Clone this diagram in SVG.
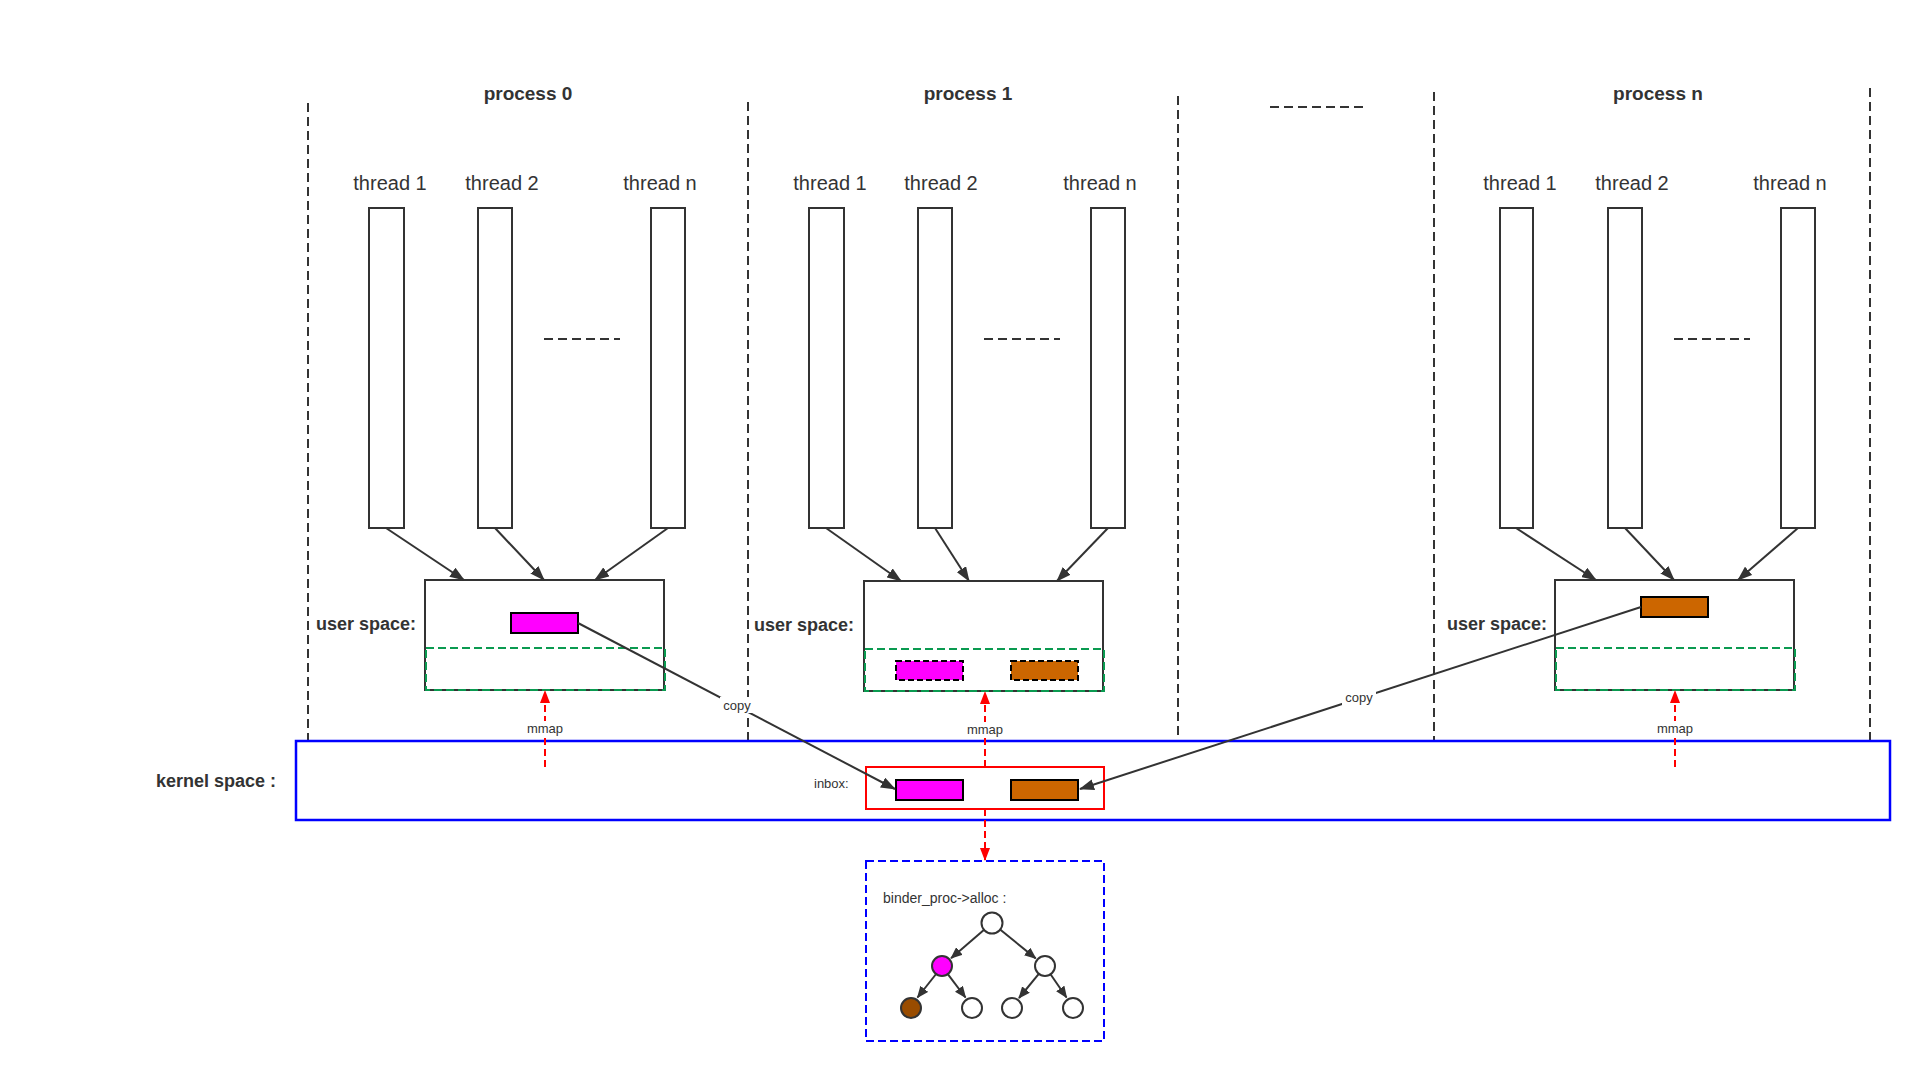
<svg xmlns="http://www.w3.org/2000/svg" width="1920" height="1072" viewBox="0 0 1920 1072">
<style>
text{font-family:"Liberation Sans",Arial,sans-serif;fill:#333}
.ptitle{font-size:19px;font-weight:bold;text-anchor:middle}
.tl{font-size:20px;text-anchor:middle}
.us{font-size:18px;font-weight:bold}
.sm{font-size:13px}
.smc{font-size:13px;text-anchor:middle}
.div{stroke:#333;stroke-width:2;stroke-dasharray:9 5;fill:none}
.dots{stroke:#333;stroke-width:2;stroke-dasharray:9 5;fill:none}
.thr{fill:#fff;stroke:#333;stroke-width:2}
.ubox{fill:#fff;stroke:#333;stroke-width:2}
.green{fill:none;stroke:#0a9a50;stroke-width:2;stroke-dasharray:8 4}
.mag{fill:#ff00ff;stroke:#000;stroke-width:2}
.org{fill:#cc6600;stroke:#000;stroke-width:2}
.dsh{stroke-dasharray:6 3}
.conn{stroke:#333;stroke-width:2;fill:none}
.red{stroke:#ff0000;stroke-width:2;stroke-dasharray:7 4;fill:none}
.node{fill:#fff;stroke:#333;stroke-width:2}
</style>
<defs>
<marker id="ah" viewBox="0 0 15 11" refX="14" refY="5.5" markerWidth="15" markerHeight="11" markerUnits="userSpaceOnUse" orient="auto"><path d="M0,0 L15,5.5 L0,11 z" fill="#333"/></marker>
<marker id="ahs" viewBox="0 0 12 10" refX="11" refY="5" markerWidth="12" markerHeight="10" markerUnits="userSpaceOnUse" orient="auto"><path d="M0,0 L12,5 L0,10 z" fill="#333"/></marker>
<marker id="ahr" viewBox="0 0 13 10" refX="12" refY="5" markerWidth="13" markerHeight="10" markerUnits="userSpaceOnUse" orient="auto"><path d="M0,0 L13,5 L0,10 z" fill="#ff0000"/></marker>
</defs>
<rect width="1920" height="1072" fill="#fff"/>

<g id="dividers">
<line class="div" x1="308" y1="103" x2="308" y2="741"/>
<line class="div" x1="748" y1="102" x2="748" y2="741"/>
<line class="div" x1="1178" y1="96" x2="1178" y2="741"/>
<line class="div" x1="1434" y1="92" x2="1434" y2="741"/>
<line class="div" x1="1870" y1="88" x2="1870" y2="741"/>
<line class="dots" x1="1270" y1="107" x2="1364" y2="107"/>
</g>

<g id="kernel">
<rect x="296" y="741" width="1594" height="79" fill="#fff" stroke="#0000ff" stroke-width="2.5"/>
<text class="us" x="156" y="787">kernel space :</text>
</g>

<g id="process0">
<text class="ptitle" x="528" y="100">process 0</text>
<text class="tl" x="390" y="190">thread 1</text>
<text class="tl" x="502" y="190">thread 2</text>
<text class="tl" x="660" y="190">thread n</text>
<rect class="thr" x="369" y="208" width="35" height="320"/>
<rect class="thr" x="478" y="208" width="34" height="320"/>
<rect class="thr" x="651" y="208" width="34" height="320"/>
<line class="dots" x1="544" y1="339" x2="620" y2="339"/>
<text class="us" x="316" y="630">user space:</text>
<rect class="ubox" x="425" y="580" width="239" height="110"/>
<rect class="green" x="426" y="648" width="239" height="42"/>
<rect class="mag" x="511" y="613" width="67" height="20"/>
</g>

<g id="process1">
<text class="ptitle" x="968" y="100">process 1</text>
<text class="tl" x="830" y="190">thread 1</text>
<text class="tl" x="941" y="190">thread 2</text>
<text class="tl" x="1100" y="190">thread n</text>
<rect class="thr" x="809" y="208" width="35" height="320"/>
<rect class="thr" x="918" y="208" width="34" height="320"/>
<rect class="thr" x="1091" y="208" width="34" height="320"/>
<line class="dots" x1="984" y1="339" x2="1060" y2="339"/>
<text class="us" x="754" y="631">user space:</text>
<rect class="ubox" x="864" y="581" width="239" height="110"/>
<rect class="green" x="865" y="649" width="239" height="42"/>
<rect class="mag dsh" x="896" y="661" width="67" height="19"/>
<rect class="org dsh" x="1011" y="661" width="67" height="19"/>
</g>

<g id="processn">
<text class="ptitle" x="1658" y="100">process n</text>
<text class="tl" x="1520" y="190">thread 1</text>
<text class="tl" x="1632" y="190">thread 2</text>
<text class="tl" x="1790" y="190">thread n</text>
<rect class="thr" x="1500" y="208" width="33" height="320"/>
<rect class="thr" x="1608" y="208" width="34" height="320"/>
<rect class="thr" x="1781" y="208" width="34" height="320"/>
<line class="dots" x1="1674" y1="339" x2="1750" y2="339"/>
<text class="us" x="1447" y="630">user space:</text>
<rect class="ubox" x="1555" y="580" width="239" height="110"/>
<rect class="green" x="1556" y="648" width="239" height="42"/>
<rect class="org" x="1641" y="597" width="67" height="20"/>
</g>

<g id="inbox">
<rect x="866" y="767" width="238" height="42" fill="#fff" stroke="#ff0000" stroke-width="2"/>
<text class="sm" x="814" y="788">inbox:</text>
<rect class="mag" x="896" y="780" width="67" height="20"/>
<rect class="org" x="1011" y="780" width="67" height="20"/>
</g>

<g id="alloc">
<rect x="866" y="861" width="238" height="180" fill="#fff" stroke="#0000ff" stroke-width="2" stroke-dasharray="8 4"/>
<text x="883" y="903" style="font-size:14px">binder_proc-&gt;alloc :</text>
<circle class="node" cx="992" cy="923" r="10.5"/>
<circle cx="942" cy="966" r="10" fill="#ff00ff" stroke="#333" stroke-width="2"/>
<circle class="node" cx="1045" cy="966" r="10"/>
<circle cx="911" cy="1008" r="10" fill="#994c00" stroke="#333" stroke-width="2"/>
<circle class="node" cx="972" cy="1008" r="10"/>
<circle class="node" cx="1012" cy="1008" r="10"/>
<circle class="node" cx="1073" cy="1008" r="10"/>
</g>

<g id="connectors">
<line class="conn" x1="386" y1="528" x2="464" y2="580" marker-end="url(#ah)"/>
<line class="conn" x1="495" y1="528" x2="544" y2="580" marker-end="url(#ah)"/>
<line class="conn" x1="668" y1="528" x2="595" y2="580" marker-end="url(#ah)"/>
<line class="conn" x1="826" y1="528" x2="901" y2="581" marker-end="url(#ah)"/>
<line class="conn" x1="935" y1="528" x2="969" y2="581" marker-end="url(#ah)"/>
<line class="conn" x1="1108" y1="528" x2="1057" y2="581" marker-end="url(#ah)"/>
<line class="conn" x1="1516" y1="528" x2="1596" y2="580" marker-end="url(#ah)"/>
<line class="conn" x1="1625" y1="528" x2="1674" y2="580" marker-end="url(#ah)"/>
<line class="conn" x1="1798" y1="528" x2="1738" y2="580" marker-end="url(#ah)"/>

<line class="conn" x1="578" y1="623" x2="895" y2="789" marker-end="url(#ah)"/>
<rect x="720" y="697" width="34" height="16" fill="#fff"/>
<text class="smc" x="737" y="710">copy</text>
<line class="conn" x1="1641" y1="607" x2="1080" y2="789" marker-end="url(#ah)"/>
<rect x="1342" y="689" width="34" height="16" fill="#fff"/>
<text class="smc" x="1359" y="702">copy</text>

<line class="red" x1="545" y1="767" x2="545" y2="691" marker-end="url(#ahr)"/>
<rect x="526" y="721" width="38" height="15" fill="#fff"/>
<text class="smc" x="545" y="733">mmap</text>
<line class="red" x1="985" y1="767" x2="985" y2="692" marker-end="url(#ahr)"/>
<rect x="966" y="722" width="38" height="15" fill="#fff"/>
<text class="smc" x="985" y="734">mmap</text>
<line class="red" x1="1675" y1="767" x2="1675" y2="691" marker-end="url(#ahr)"/>
<rect x="1656" y="721" width="38" height="15" fill="#fff"/>
<text class="smc" x="1675" y="733">mmap</text>
<line class="red" x1="985" y1="809" x2="985" y2="860" marker-end="url(#ahr)"/>

<line class="conn" x1="984.4" y1="929.5" x2="951.1" y2="958.2" marker-end="url(#ahs)"/>
<line class="conn" x1="999.8" y1="929.3" x2="1035.7" y2="958.4" marker-end="url(#ahs)"/>
<line class="conn" x1="936.1" y1="974" x2="917.5" y2="997.5" marker-end="url(#ahs)"/>
<line class="conn" x1="947.8" y1="974.1" x2="965.5" y2="997.5" marker-end="url(#ahs)"/>
<line class="conn" x1="1038.8" y1="973.9" x2="1019" y2="998" marker-end="url(#ahs)"/>
<line class="conn" x1="1050.5" y1="974.3" x2="1066.5" y2="997.5" marker-end="url(#ahs)"/>
</g>
</svg>
